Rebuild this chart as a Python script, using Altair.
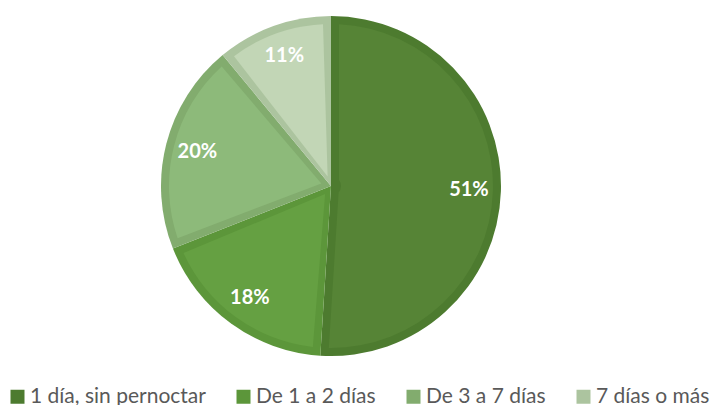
import altair as alt
import pandas as pd

categories = ["1 día, sin pernoctar", "De 1 a 2 días", "De 3 a 7 días", "7 días o más"]
values = [51, 18, 20, 11]
labels = ["51%", "18%", "20%", "11%"]
fill_colors = ["#568436", "#65A042", "#8DBA7A", "#C2D6B6"]
border_colors = ["#4D7B2F", "#5C963A", "#82AC6E", "#ACC49F"]
order = [0, 1, 2, 3]

df = pd.DataFrame({
    "cat": categories,
    "value": values,
    "label": labels,
    "fill": fill_colors,
    "order": order,
})

W, H = 705, 397
CX, CY = 323, 178

base = alt.Chart(df).encode(
    theta=alt.Theta("value:Q", stack=True),
    order=alt.Order("order:Q"),
    x=alt.value(CX),
    y=alt.value(CY),
)

border = base.mark_arc(outerRadius=170).encode(
    color=alt.Color(
        "cat:N",
        scale=alt.Scale(domain=categories, range=border_colors),
        legend=alt.Legend(
            orient="none",
            legendX=-1,
            legendY=378,
            direction="horizontal",
            title=None,
            symbolType="square",
            symbolSize=196,
            symbolStrokeWidth=0,
            labelFontSize=21,
            labelFont="Lato",
            labelColor="#595959",
            labelLimit=400,
            columnPadding=27,
            labelOffset=2,
        ),
    )
)

inner = base.mark_arc(outerRadius=162, innerRadius=10, padAngle=0.0986).encode(
    fill=alt.Fill("fill:N", scale=None)
)

text = base.mark_text(
    radius=138, fontSize=20, fontWeight="bold", color="white", font="Lato"
).encode(text="label:N")

chart = (
    alt.layer(border, inner, text)
    .resolve_scale(color="independent", fill="independent")
    .properties(width=W, height=H, autosize="none", padding=0)
    .configure_view(strokeWidth=0)
)

chart.save("out.html", embed_options={"renderer": "svg", "actions": False})
